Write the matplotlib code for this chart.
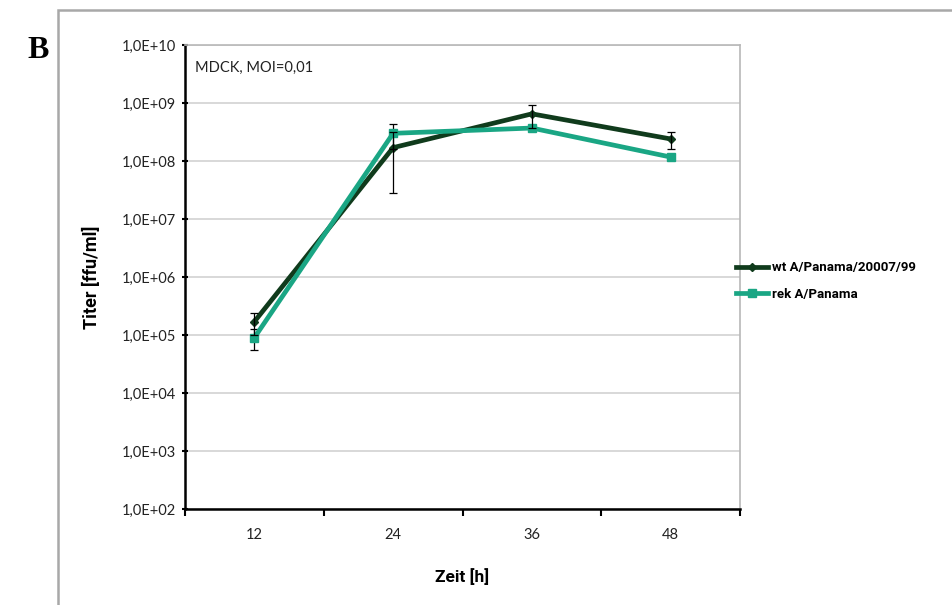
import matplotlib
matplotlib.use("Agg")
import matplotlib.pyplot as plt
from matplotlib.patches import Rectangle
from matplotlib.lines import Line2D
import numpy as np

hours = ["12", "24", "36", "48"]
wt = [1.7e5, 1.7e8, 6.5e8, 2.4e8]
wt_err = [0.7e5, 1.42e8, 2.8e8, 0.8e8]
rek = [9.0e4, 3.0e8, 3.7e8, 1.17e8]
rek_err = [3.5e4, 1.4e8, 0.2e8, 0.05e8]
ytick_vals = [1e2, 1e3, 1e4, 1e5, 1e6, 1e7, 1e8, 1e9, 1e10]
ytick_labels = ["1,0E+02", "1,0E+03", "1,0E+04", "1,0E+05", "1,0E+06",
                "1,0E+07", "1,0E+08", "1,0E+09", "1,0E+10"]

dark = "#103b1c"
teal = "#1aa684"
tickfont = "Lato"
boldfont = ["Roboto", "DejaVu Sans"]

fig = plt.figure(figsize=(9.52, 6.05), dpi=100)
fig.patches.append(Rectangle((58/952, -0.2), 1.2, 1.2 - 10/605,
                             transform=fig.transFigure, fill=False,
                             edgecolor="#a8a8a8", linewidth=1.8))

ax = fig.add_axes([185/952, 1 - 509/605, 555/952, 464/605])
x = np.arange(len(hours))

ax.errorbar(x, wt, yerr=wt_err, fmt="none", ecolor="black", elinewidth=0.9,
            capsize=3, capthick=0.9, zorder=5)
ax.errorbar(x, rek, yerr=rek_err, fmt="none", ecolor="black", elinewidth=0.9,
            capsize=3, capthick=0.9, zorder=3.5)
ax.plot(x, wt, color=dark, lw=3.4, marker="D", ms=4.5, zorder=3,
        label="wt A/Panama/20007/99")
ax.plot(x, rek, color=teal, lw=3.4, marker="s", ms=6, zorder=4,
        label="rek A/Panama")

ax.set_yscale("log")
ax.set_ylim(1e2, 1e10)
ax.set_xlim(-0.5, len(hours) - 0.5)
ax.set_yticks(ytick_vals)
ax.set_yticklabels(ytick_labels, fontfamily=tickfont, fontsize=10.5, color="#222222")
ax.yaxis.set_minor_locator(matplotlib.ticker.NullLocator())
ax.set_xticks(x)
ax.set_xticklabels(hours, fontfamily=tickfont, fontsize=10.5, color="#222222")
ax.tick_params(axis="x", which="major", length=0, pad=14)
ax.set_xticks(np.arange(-0.5, len(hours)), minor=True)
ax.tick_params(axis="x", which="minor", length=5, width=1.5, direction="out")
ax.tick_params(axis="y", which="major", length=5, width=1.5, direction="inout", pad=4)

ax.grid(axis="y", which="major", color="#d2d2d2", lw=1.2)
ax.set_axisbelow(True)
for s in ["top", "right"]:
    ax.spines[s].set_color("#b8b8b8")
    ax.spines[s].set_linewidth(1.2)
for s in ["left", "bottom"]:
    ax.spines[s].set_color("black")
    ax.spines[s].set_linewidth(1.8)

ax.text(0.018, 0.965, "MDCK, MOI=0,01", transform=ax.transAxes, fontfamily=tickfont,
        fontsize=10.5, va="top", ha="left", color="#222222")

fig.text(92/952, 1 - 277/605, "Titer [ffu/ml]", rotation=90, ha="center", va="center",
         fontfamily=boldfont, fontweight="bold", fontsize=13)
fig.text(462/952, 1 - 577/605, "Zeit [h]", ha="center", va="center",
         fontfamily=boldfont, fontweight="bold", fontsize=12.5)
fig.text(27/952, 1 - 50/605, "B", ha="left", va="center", fontfamily="Liberation Serif",
         fontweight="bold", fontsize=23)

handles = [Line2D([], [], color=dark, lw=3.4, marker="D", ms=4.5),
           Line2D([], [], color=teal, lw=3.4, marker="s", ms=6)]
leg = fig.legend(handles, ["wt A/Panama/20007/99", "rek A/Panama"],
                 loc="center left", bbox_to_anchor=(724/952, 1 - 281/605),
                 frameon=False, handlelength=2.4, handletextpad=0.3, labelspacing=1.0,
                 prop={"family": boldfont, "weight": "bold", "size": 9.5})

fig.savefig("out.png", dpi=100)
